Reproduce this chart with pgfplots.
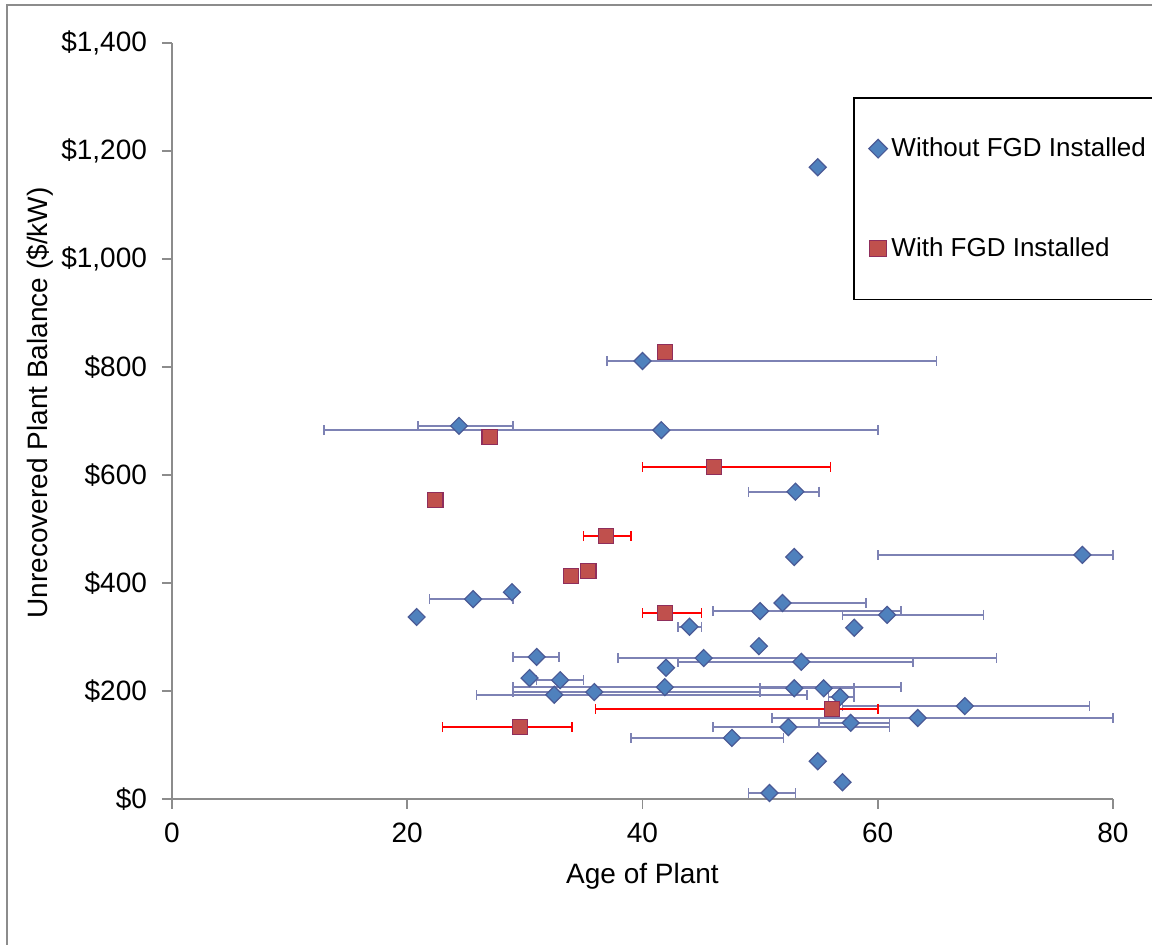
\documentclass[border=0pt]{standalone}
\usepackage{pgfplots}
\pgfplotsset{compat=1.18}
\usepackage{pgfplotstable}
\usepackage{fontspec}
\setmainfont{Liberation Sans}

\definecolor{blueFill}{HTML}{4F81BD}
\definecolor{blueEdge}{HTML}{4A5A96}
\definecolor{redFill}{HTML}{C0504D}
\definecolor{redEdge}{HTML}{8F2E5C}
\definecolor{barBlue}{HTML}{7D82B4}
\definecolor{frameGray}{HTML}{8C8C8C}

% age, balance, x error minus, x error plus
\pgfplotstableread{
x y em ep
54.9 1170 0 0
40.0 811 3.0 25.0
24.4 691 3.5 4.6
41.6 683 28.7 18.4
53.0 569 4.0 2.0
52.9 448 0 0
77.4 452 17.4 2.6
25.6 370 3.7 3.4
28.9 383 0 0
20.8 337 0 0
50.0 348 4.0 12.0
51.9 363 0 7.1
60.8 341 3.8 8.2
58.0 317 0 0
44.0 319 1.0 1.0
49.9 283 0 0
31.0 263 2.0 1.9
45.2 261 7.3 24.9
53.5 254 10.5 9.5
42.0 243 0 0
30.4 224 0 0
33.0 220 2.0 2.0
32.5 193 6.6 21.5
35.9 198 6.9 14.1
41.9 207 12.9 20.1
52.9 205 2.9 5.1
55.4 205 0 0
56.8 189 1.0 1.2
67.4 172 10.4 10.6
63.4 150 12.4 16.6
57.7 141 2.7 3.3
52.4 133 6.4 8.6
47.6 113 8.6 4.4
54.9 70 0 0
57.0 31 0 0
50.8 11 1.8 2.2
}\withoutfgd

\pgfplotstableread{
x y em ep
41.9 828 0 0
27.0 670 0 0
46.1 615 6.1 9.9
22.4 554 0 0
36.9 487 1.9 2.1
33.9 413 0 0
35.4 422 0 0
41.9 344 1.9 3.1
56.1 167 20.1 3.9
29.6 133 6.6 4.4
}\withfgd

\begin{document}
\begin{tikzpicture}
\path[use as bounding box] (-86pt,-73pt) rectangle (490pt,399.5pt);
\draw[frameGray, line width=0.7pt] (-82.5pt,-200pt) rectangle (700pt,397pt);
\begin{axis}[
  at={(0pt,0pt)}, anchor=south west,
  scale only axis,
  width=470.5pt, height=378pt,
  xmin=0, xmax=80, ymin=0, ymax=1400,
  xtick={0,20,...,80},
  ytick={0,200,...,1400},
  yticklabels={\$0,\$200,\$400,\$600,\$800,{\$1,000},{\$1,200},{\$1,400}},
  /pgf/number format/assume math mode=true,
  axis x line*=bottom, axis y line*=left,
  axis line style={frameGray, line width=0.8pt},
  tick align=outside,
  major tick length=5pt,
  tick style={frameGray, line width=0.8pt},
  tick label style={font=\fontsize{14}{16}\selectfont},
  yticklabel style={xshift=-4pt},
  xticklabel style={yshift=-3.5pt},
  xlabel={Age of Plant},
  ylabel={Unrecovered Plant Balance (\$/kW)},
  label style={font=\fontsize{14}{16}\selectfont},
  xlabel style={at={(axis description cs:0.5,0)}, anchor=center, yshift=-38.5pt},
  ylabel style={at={(axis description cs:0,0.524)}, anchor=center, yshift=66pt},
  legend style={at={(rel axis cs:0.7237,0.9286)}, anchor=north west,
    draw=black, line width=0.8pt,
    font=\fontsize{13}{15}\selectfont,
    inner xsep=7.5pt, inner ysep=18pt, row sep=35pt,
    cells={anchor=west}},
  legend cell align=left,
  legend image code/.code={\path (-4pt,0pt) (4pt,0pt);
    \draw[#1, line width=0.5pt, scale=1.1] plot coordinates {(0pt,0pt)};},
  clip=false,
]
\addplot[only marks, mark=square*,
  mark options={rotate=45, fill=blueFill, draw=blueEdge, line width=0.6pt},
  mark size=3pt,
  error bars/.cd, x dir=both, x explicit,
  error bar style={barBlue, line width=0.8pt},
  error mark options={rotate=90, barBlue, mark size=2.5pt, line width=0.8pt}]
  table[x=x, y=y, x error plus=ep, x error minus=em] {\withoutfgd};
\addlegendentry{Without FGD Installed}

\addplot[only marks, mark=square*,
  mark options={fill=redFill, draw=redEdge, line width=0.6pt},
  mark size=3.8pt,
  error bars/.cd, x dir=both, x explicit,
  error bar style={red, line width=0.8pt},
  error mark options={rotate=90, red, mark size=2.5pt, line width=0.8pt}]
  table[x=x, y=y, x error plus=ep, x error minus=em] {\withfgd};
\addlegendentry{With FGD Installed}
\end{axis}
\end{tikzpicture}
\end{document}
